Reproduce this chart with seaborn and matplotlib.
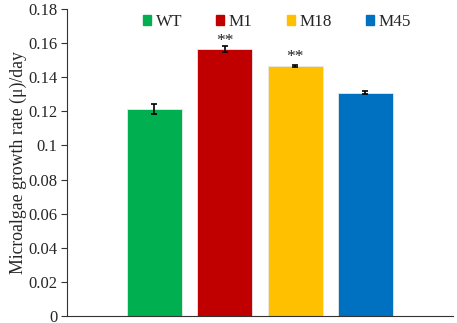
import matplotlib
matplotlib.use("Agg")
import matplotlib.pyplot as plt
import seaborn as sns
import pandas as pd

strains = ["WT", "M1", "M18", "M45"]
growth_rate = [0.1215, 0.1565, 0.1468, 0.1310]
growth_err = [0.0030, 0.0018, 0.0006, 0.0010]
signif = ["", "**", "**", ""]
colors = ["#00B050", "#C00000", "#FFC000", "#0070C0"]

sns.set_theme(style="white")
plt.rcParams["font.family"] = ["Liberation Serif", "DejaVu Serif"]
plt.rcParams["font.size"] = 12

df = pd.DataFrame({"strain": strains, "rate": growth_rate})

fig = plt.figure(figsize=(4.57, 3.23), dpi=100)
ax = fig.add_axes([0.1466, 0.0226, 0.8444, 0.9487])

sns.barplot(data=df, x="strain", y="rate", hue="strain", palette=colors,
            saturation=1, width=0.78, errorbar=None, legend=False, ax=ax,
            edgecolor="#e8e8e8", linewidth=0.6)
ax.errorbar(range(len(strains)), growth_rate, yerr=growth_err, fmt="none",
            ecolor="black", elinewidth=1.2, capsize=2.5, capthick=1.2)
for i, (v, s) in enumerate(zip(growth_rate, signif)):
    if s:
        ax.text(i, v + 0.005, s, ha="center", va="center", fontsize=12.5,
                color="#222222")

ax.set_xlim(-1.244, 4.244)
ax.set_ylim(0, 0.18)
ax.set_yticks([0, 0.02, 0.04, 0.06, 0.08, 0.1, 0.12, 0.14, 0.16, 0.18])
ax.set_yticklabels(["0", "0.02", "0.04", "0.06", "0.08", "0.1", "0.12", "0.14", "0.16", "0.18"])
ax.set_xticks([])
ax.set_xlabel("")
ax.set_ylabel("Microalgae growth rate (μ)/day", fontsize=12.8, labelpad=1)
ax.tick_params(axis="y", which="both", left=True, length=4, width=0.8,
               color="#333333", labelsize=12, pad=3)
for side in ["top", "right"]:
    ax.spines[side].set_visible(False)
for side in ["left", "bottom"]:
    ax.spines[side].set_color("#333333")
    ax.spines[side].set_linewidth(0.8)

handles = [plt.Rectangle((0, 0), 1, 1, color=c) for c in colors]
ax.legend(handles, strains, ncol=4, frameon=False, loc="center left",
          bbox_to_anchor=(0.197, 0.9585), borderaxespad=0, borderpad=0,
          handlelength=0.48, handleheight=0.48, handletextpad=0.25,
          columnspacing=2.0, fontsize=12.3)

fig.savefig("out.png", dpi=100)
